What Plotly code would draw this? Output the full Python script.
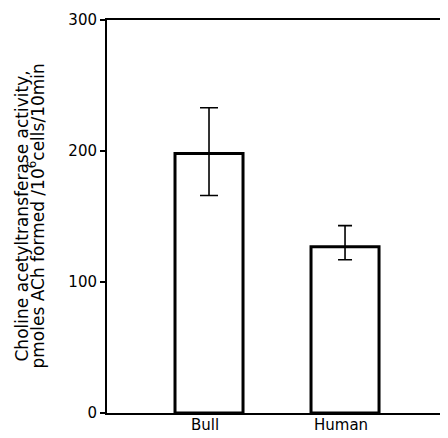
import plotly.graph_objects as go

categories = ["Bull", "Human"]
values = [198, 127]
err_plus = [35, 16]
err_minus = [32, 10]
cap_widths = [9, 7]
title_lines = ["Choline acetyltransferase activity,",
               "pmoles ACh formed /10<sup>6</sup>cells/10min"]

# page body adds an 8px offset; figure sized to the visible area
OFF = 8
W, H = 448 - OFF, 438 - OFF
L, R, T, B = 107 - OFF, 3, 20 - OFF, 25
pw = W - L - R

fig = go.Figure()
for i, cat in enumerate(categories):
    fig.add_trace(go.Bar(
        x=[i], y=[values[i]], width=0.5,
        marker=dict(color="white", line=dict(color="black", width=3)),
        error_y=dict(type="data", symmetric=False, array=[err_plus[i]],
                     arrayminus=[err_minus[i]], color="black",
                     thickness=1.6, width=cap_widths[i]),
        showlegend=False,
    ))

annotations = []
for i, cat in enumerate(categories):
    annotations.append(dict(
        text=cat, x=i - 0.03, y=0, xref="x", yref="y", yanchor="bottom",
        yshift=-(B - 2), showarrow=False,
        font=dict(family="DejaVu Sans", size=15, color="black"),
    ))
for j, (line, px) in enumerate(zip(title_lines, [21, 36])):
    annotations.append(dict(
        text=line, xref="paper", yref="paper", x=(px - OFF - L) / pw, y=0.5,
        textangle=-90, showarrow=False, xanchor="center", yanchor="middle",
        font=dict(family="DejaVu Sans", size=17, color="black"),
    ))

fig.update_layout(
    width=W, height=H,
    margin=dict(l=L, r=R, t=T, b=B),
    plot_bgcolor="white", paper_bgcolor="white",
    font=dict(family="DejaVu Sans", size=14, color="black"),
    xaxis=dict(range=[-0.75, 1.735], showticklabels=False,
               showline=True, linecolor="black", linewidth=2, mirror=True,
               ticks="", showgrid=False, zeroline=False),
    yaxis=dict(range=[0, 300], tickvals=[0, 100, 200, 300],
               showline=True, linecolor="black", linewidth=2,
               ticks="outside", ticklen=5, tickwidth=1.5, tickcolor="black",
               showgrid=False, zeroline=False, tickfont=dict(size=15)),
    annotations=annotations,
)
fig.write_html("out.html")
